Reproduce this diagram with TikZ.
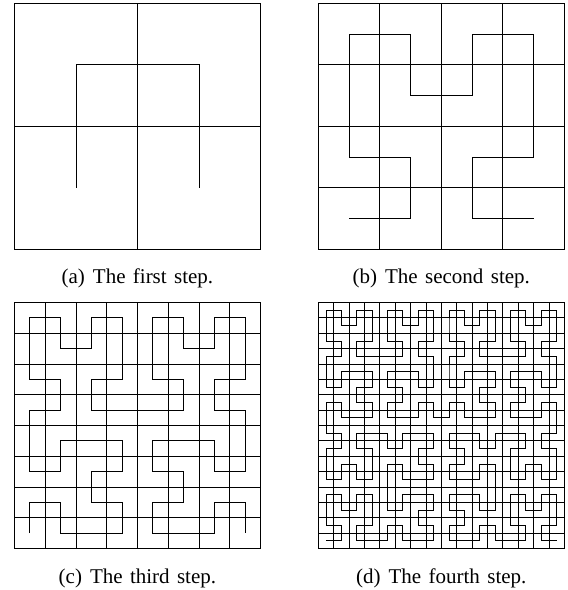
\documentclass[tikz,border=0pt]{standalone}
\usepackage{fontspec}
\setmainfont{Liberation Serif}[WordSpace=1.4]
\newcount\hildir
\def\hilturnL{\global\advance\hildir 1 \ifnum\hildir>3 \global\advance\hildir -4 \fi}
\def\hilturnR{\global\advance\hildir -1 \ifnum\hildir<0 \global\advance\hildir 4 \fi}
\def\hilF{\ifcase\hildir
    \xdef\hilpath{\hilpath --++(\hilc,0)}%
  \or\xdef\hilpath{\hilpath --++(0,\hilc)}%
  \or\xdef\hilpath{\hilpath --++(-\hilc,0)}%
  \or\xdef\hilpath{\hilpath --++(0,-\hilc)}%
  \fi}
\def\hilL#1{\ifnum#1>0 \expandafter\hilLx\expandafter{\the\numexpr#1-1\relax}\fi}
\def\hilLx#1{\hilturnL\hilR{#1}\hilF\hilturnR\hilL{#1}\hilF\hilL{#1}\hilturnR\hilF\hilR{#1}\hilturnL}
\def\hilR#1{\ifnum#1>0 \expandafter\hilRx\expandafter{\the\numexpr#1-1\relax}\fi}
\def\hilRx#1{\hilturnR\hilL{#1}\hilF\hilturnL\hilR{#1}\hilF\hilR{#1}\hilturnL\hilF\hilL{#1}\hilturnR}
\tikzset{
  gridline/.style={line width=0.8pt, black},
  curve/.style={line width=0.8pt, black, line join=miter},
  captext/.style={font=\fontsize{21}{25}\selectfont, anchor=base, inner sep=0pt},
}
\newcommand\hilpanel[3]{%
  \pgfmathsetmacro\hilc{246/(2^#3)}%
  \pgfmathtruncatemacro\hilm{2^#3-1}%
  \draw[gridline] (#1,#2) rectangle ++(246,246);
  \foreach \i in {1,...,\hilm}{%
    \draw[gridline] ({#1+\i*\hilc},#2) -- ++(0,246);
    \draw[gridline] (#1,{#2+\i*\hilc}) -- ++(246,0);
  }
  \global\hildir=0
  \gdef\hilpath{}%
  \hilL{#3}%
  \pgfmathsetmacro\hilsx{#1+\hilc/2}%
  \pgfmathsetmacro\hilsy{#2+\hilc/2}%
  \draw[curve] (\hilsx,\hilsy) \hilpath;
}
\begin{document}
\begin{tikzpicture}[x=1pt,y=1pt]
\useasboundingbox (0,0) rectangle (568,590);
\hilpanel{14.4}{340.8}{1}
\hilpanel{318.3}{340.8}{2}
\hilpanel{14.4}{41.5}{3}
\hilpanel{318.3}{41.5}{4}
\node[captext] (capa) at (137.4,306.7) {(a)\hspace{0.38em}The first step.};
\node[captext] (capb) at (441.3,306.7) {(b)\hspace{0.38em}The second step.};
\node[captext] (capc) at (137.4,6.7) {(c)\hspace{0.38em}The third step.};
\node[captext] (capd) at (441.3,6.7) {(d)\hspace{0.38em}The fourth step.};
\end{tikzpicture}
\end{document}
